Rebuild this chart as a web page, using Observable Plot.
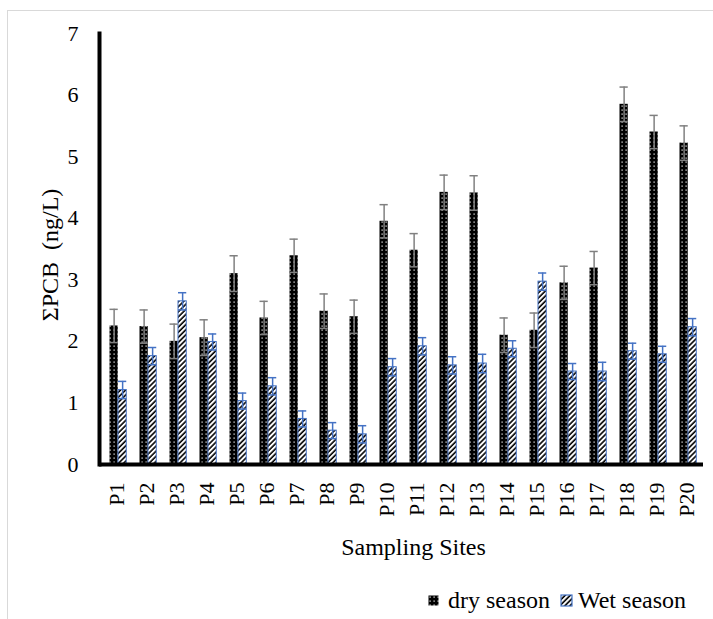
<!DOCTYPE html>
<html>
<head>
<meta charset="utf-8">
<script src="https://cdn.jsdelivr.net/npm/d3@7"></script>
<script src="https://cdn.jsdelivr.net/npm/@observablehq/plot@0.6"></script>
<style>
  html, body { margin: 0; padding: 0; background: #fff; }
  #wrap { position: relative; width: 713px; height: 619px; overflow: hidden; font-family: 'Liberation Serif', 'DejaVu Serif', serif; }
  #border { position: absolute; left: 7px; top: 10px; width: 720px; height: 640px; border: 1px solid #d9d9d9; box-sizing: border-box; }
  #chart { position: absolute; left: 0; top: 0; }
  #legend { position: absolute; left: 428px; top: 586px; display: flex; align-items: center; font-size: 24px; line-height: 28px; color: #000; white-space: nowrap; }
  #chart svg text { font-family: 'Liberation Serif', 'DejaVu Serif', serif; }
</style>
</head>
<body>
<div id="wrap">
  <div id="border"></div>
  <div id="chart"></div>
  <div id="legend">
    <svg width="11" height="11" style="margin-right:9px"><rect x="0.5" y="0.5" width="10" height="10" fill="url(#dryDots)"/></svg><span style="margin-right:10px">dry season</span>
    <svg width="13" height="13" style="margin-right:5px"><rect x="1" y="1" width="11" height="11" fill="url(#wetHatch)" stroke="#4472C4" stroke-width="1.2"/></svg><span>Wet season</span>
  </div>
</div>
<script>
const sites = ["P1","P2","P3","P4","P5","P6","P7","P8","P9","P10","P11","P12","P13","P14","P15","P16","P17","P18","P19","P20"];
const dry    = [2.25, 2.24, 2.00, 2.06, 3.10, 2.38, 3.39, 2.49, 2.40, 3.95, 3.48, 4.42, 4.41, 2.10, 2.18, 2.95, 3.19, 5.85, 5.40, 5.22];
const dryErr = [0.27, 0.27, 0.28, 0.29, 0.29, 0.27, 0.27, 0.28, 0.27, 0.27, 0.27, 0.28, 0.28, 0.28, 0.28, 0.27, 0.27, 0.28, 0.27, 0.28];
const wet    = [1.21, 1.76, 2.65, 1.99, 1.03, 1.27, 0.74, 0.55, 0.49, 1.58, 1.92, 1.61, 1.64, 1.88, 2.97, 1.51, 1.51, 1.84, 1.79, 2.23];
const wetErr = [0.14, 0.14, 0.14, 0.13, 0.13, 0.14, 0.13, 0.13, 0.14, 0.14, 0.14, 0.14, 0.15, 0.13, 0.14, 0.13, 0.15, 0.13, 0.13, 0.14];
const yTicks = [0, 1, 2, 3, 4, 5, 6, 7];
const xTitle = "Sampling Sites";
const yTitle = "ΣPCB  (ng/L)";

const data = sites.map((s, i) => ({site: s, dry: dry[i], dryErr: dryErr[i], wet: wet[i], wetErr: wetErr[i]}));

const font = "'Liberation Serif', 'DejaVu Serif', serif";
const dryIn = {insetLeft: 8.5, insetRight: 13.25};
const wetIn = {insetLeft: 17, insetRight: 4.75};
const grey = "#808080";
const blue = "#4472C4";

const plot = Plot.plot({
  width: 713,
  height: 590,
  marginLeft: 99,
  marginRight: 10,
  marginTop: 33,
  marginBottom: 126,
  style: {fontFamily: font, fontSize: "22px", color: "#000", background: "transparent"},
  x: {domain: sites, padding: 0},
  y: {domain: [0, 7]},
  marks: [
    Plot.axisY({ticks: yTicks, tickFormat: d3.format("d"), tickSize: 0, tickPadding: 21, fontSize: 22,
      label: null}),
    Plot.axisX({tickSize: 0, tickRotate: -90, tickPadding: 18, fontSize: 22, label: null}),
    Plot.text([yTitle], {frameAnchor: "left", textAnchor: "middle", rotate: -90, dx: -49, dy: 6, fontSize: 24}),
    Plot.text([xTitle], {frameAnchor: "bottom", textAnchor: "middle", dy: 90, dx: 12, fontSize: 24}),
    Plot.barY(data, {x: "site", y: "dry", fill: "url(#dryDots)", ...dryIn}),
    Plot.barY(data, {x: "site", y: "wet", fill: "url(#wetHatch)", stroke: blue, strokeWidth: 1, ...wetIn}),
    Plot.ruleX(data, {x: "site", y1: d => d.dry - d.dryErr, y2: d => d.dry + d.dryErr, stroke: grey, strokeWidth: 1.5, dx: -2.375}),
    Plot.tickY(data, {x: "site", y: d => d.dry + d.dryErr, stroke: grey, strokeWidth: 1.5, ...dryIn}),
    Plot.tickY(data, {x: "site", y: d => d.dry - d.dryErr, stroke: grey, strokeWidth: 1.5, ...dryIn}),
    Plot.ruleX(data, {x: "site", y1: d => d.wet - d.wetErr, y2: d => d.wet + d.wetErr, stroke: blue, strokeWidth: 1.5, dx: 6.125}),
    Plot.tickY(data, {x: "site", y: d => d.wet + d.wetErr, stroke: blue, strokeWidth: 1.5, ...wetIn}),
    Plot.tickY(data, {x: "site", y: d => d.wet - d.wetErr, stroke: blue, strokeWidth: 1.5, ...wetIn}),
    Plot.frame({anchor: "left", stroke: "#000", strokeWidth: 4}),
    Plot.ruleY([0], {stroke: "#000", strokeWidth: 4})
  ]
});

// pattern definitions used by the bar fills
const svg = d3.select(plot);
const defs = svg.insert("defs", ":first-child");
const dp = defs.append("pattern").attr("id", "dryDots").attr("patternUnits", "userSpaceOnUse")
  .attr("width", 4).attr("height", 4);
dp.append("rect").attr("width", 4).attr("height", 4).attr("fill", "#000");
dp.append("rect").attr("x", 1.5).attr("y", 1.5).attr("width", 1.2).attr("height", 1.2).attr("fill", "#fff");
const wp = defs.append("pattern").attr("id", "wetHatch").attr("patternUnits", "userSpaceOnUse")
  .attr("width", 3.6).attr("height", 3.6).attr("patternTransform", "rotate(45)");
wp.append("rect").attr("width", 3.6).attr("height", 3.6).attr("fill", "#fff");
wp.append("line").attr("x1", 1).attr("y1", 0).attr("x2", 1).attr("y2", 3.6).attr("stroke", "#000").attr("stroke-width", 1.6);

document.getElementById("chart").appendChild(plot);
</script>
</body>
</html>
